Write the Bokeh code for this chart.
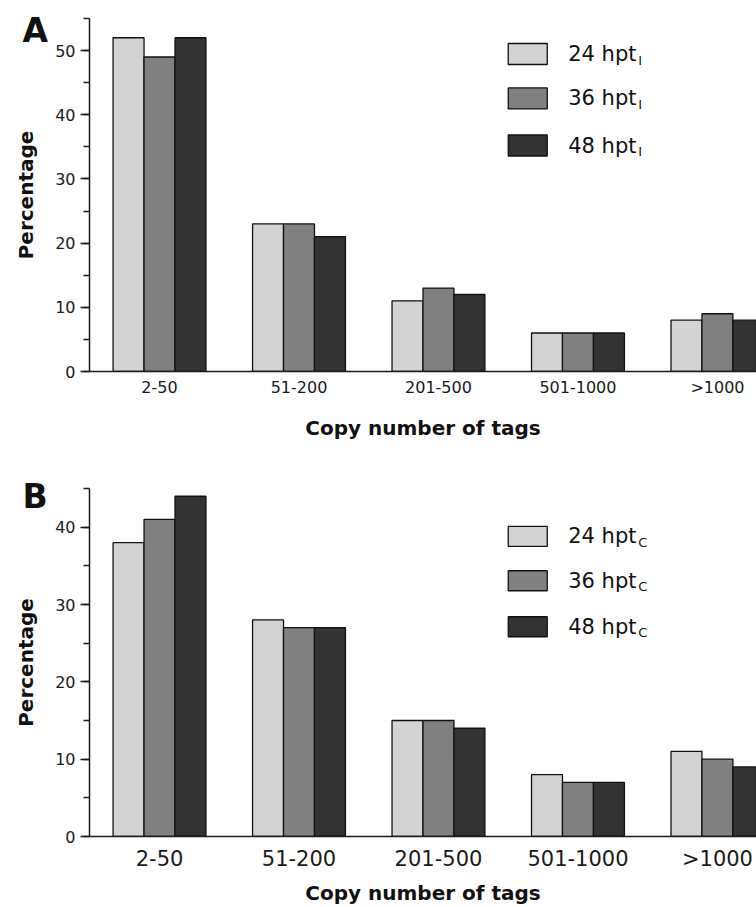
from bokeh.plotting import figure
from bokeh.models import Range1d, FixedTicker, SingleIntervalTicker, Title
from bokeh.layouts import column
from bokeh.embed import file_html
from bokeh.resources import INLINE
from bokeh.core.properties import value

# ---- data ----
categories = ["2-50", "51-200", "201-500", "501-1000", ">1000"]
series_names = ["24 hpt", "36 hpt", "48 hpt"]
a_24 = [52, 23, 11, 6, 8]
a_36 = [49, 23, 13, 6, 9]
a_48 = [52, 21, 12, 6, 8]
b_24 = [38, 28, 15, 8, 11]
b_36 = [41, 27, 15, 7, 10]
b_48 = [44, 27, 14, 7, 9]
colors = ["#d3d3d3", "#808080", "#333333"]

FONT = "DejaVu Sans"
BAR_W = 0.222


def make_panel(letter, series, sub, ymax, height, mb_top, mb_bottom, xtick_size,
               tick_standoff, letter_standoff, leg_rows, leg_box_h, sub_dy, label_standoff):
    p = figure(width=756, height=height, output_backend="svg", toolbar_location=None,
               x_range=Range1d(-0.502, 4.28), y_range=Range1d(0, ymax),
               min_border_left=89, min_border_right=0, min_border_top=mb_top,
               min_border_bottom=mb_bottom)
    p.outline_line_color = None
    p.xgrid.grid_line_color = None
    p.ygrid.grid_line_color = None
    p.background_fill_color = "white"
    p.border_fill_color = "white"

    offsets = [-BAR_W, 0.0, BAR_W]
    for vals, off, col in zip(series, offsets, colors):
        p.vbar(x=[i + off for i in range(len(categories))], top=vals, bottom=0,
               width=BAR_W, fill_color=col, line_color="#111111", line_width=1.3)

    # x axis
    xa = p.xaxis[0]
    xa.ticker = FixedTicker(ticks=list(range(len(categories))))
    xa.major_label_overrides = {i: c for i, c in enumerate(categories)}
    xa.major_tick_out = 0
    xa.major_tick_in = 0
    xa.minor_tick_out = 0
    xa.minor_tick_in = 0
    xa.axis_line_color = "#1a1a1a"
    xa.axis_line_width = 1.5
    xa.major_label_text_font = FONT
    xa.major_label_text_font_size = xtick_size
    xa.major_label_text_color = "#1a1a1a"
    xa.major_label_standoff = tick_standoff
    xa.axis_label = "Copy number of tags"
    xa.axis_label_text_font = FONT
    xa.axis_label_text_font_style = "bold"
    xa.axis_label_text_font_size = "20px"
    xa.axis_label_text_color = "#111111"
    xa.axis_label_standoff = label_standoff

    # y axis
    ya = p.yaxis[0]
    ya.ticker = SingleIntervalTicker(interval=10, num_minor_ticks=2)
    ya.major_tick_out = 9
    ya.major_tick_in = 0
    ya.minor_tick_out = 6
    ya.minor_tick_in = 0
    ya.major_tick_line_color = "#1a1a1a"
    ya.minor_tick_line_color = "#1a1a1a"
    ya.major_tick_line_width = 1.3
    ya.minor_tick_line_width = 1.3
    ya.axis_line_color = "#1a1a1a"
    ya.axis_line_width = 1.5
    ya.major_label_text_font = FONT
    ya.major_label_text_font_size = "16px"
    ya.major_label_text_color = "#1a1a1a"
    ya.major_label_standoff = 5
    ya.axis_label = "Percentage"
    ya.axis_label_text_font = FONT
    ya.axis_label_text_font_style = "bold"
    ya.axis_label_text_font_size = "20px"
    ya.axis_label_text_color = "#111111"
    ya.axis_label_standoff = 14

    # panel letter as a title pulled into the left margin
    p.add_layout(Title(text=letter, align="left", offset=-67, standoff=letter_standoff,
                       text_font=FONT, text_font_size="33px", text_font_style="bold",
                       text_color="#111111"), "above")

    # manual legend
    p.rect(x=[2.64] * 3, y=leg_rows, width=39, height=leg_box_h,
           width_units="screen", height_units="screen",
           fill_color=colors, line_color="#111111", line_width=1.3)
    p.text(x=[2.93] * 3, y=leg_rows, text=series_names,
           text_font=value(FONT), text_font_size=value("21px"),
           text_baseline="middle", text_align="left", text_color="#111111")
    p.text(x=[2.93 + 70 / 139.5] * 3, y=[r - sub_dy for r in leg_rows], text=[sub] * 3,
           text_font=value(FONT), text_font_size=value("13px"),
           text_baseline="middle", text_align="left", text_color="#111111")
    return p


pA = make_panel("A", [a_24, a_36, a_48], "I", 55, 478, 18, 107, "16px", 6,
                -62, [49.47, 42.54, 35.21], 21, 1.0, 16)
pB = make_panel("B", [b_24, b_36, b_48], "C", 45, 429, 10, 71, "21px", 10,
                -54, [38.8, 33.07, 27.12], 20, 0.75, 7)

layout = column(pA, pB)
open("out.html", "w").write(file_html(layout, INLINE))
